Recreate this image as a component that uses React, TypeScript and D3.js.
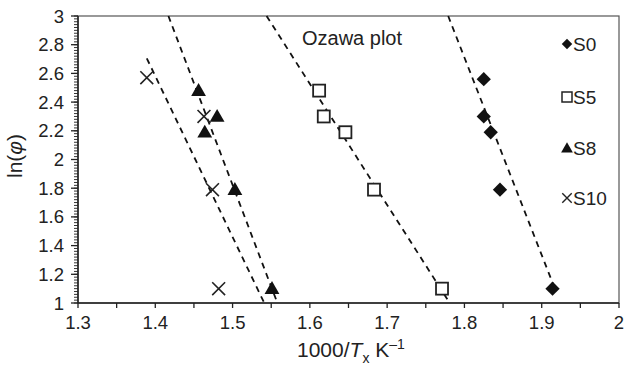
import React, { useEffect, useRef } from 'react';
import * as d3 from 'd3';

// heating-rate levels ln(phi)
const lnPhi = [2.56, 2.30, 2.19, 1.79, 1.10];
const lnPhiS8 = [2.48, 2.30, 2.19, 1.79, 1.10];
const lnPhiS10 = [2.57, 2.30, 1.79, 1.10];

const s0X = [1.825, 1.825, 1.834, 1.846, 1.914];
const s5X = [1.612, 1.618, 1.646, 1.683, 1.771];
const s8X = [1.456, 1.480, 1.464, 1.503, 1.551];
const s10X = [1.389, 1.463, 1.474, 1.482];
const s5Y = [2.48, 2.30, 2.19, 1.79, 1.10];

// dashed fit lines [x1, y1, x2, y2]
const fitS0 = [1.779, 3, 1.917, 1.1];
const fitS5 = [1.544, 3, 1.781, 1.0];
const fitS8 = [1.417, 3, 1.558, 1.0];
const fitS10 = [1.389, 2.705, 1.541, 1.0];

const xTicks = [1.3, 1.4, 1.5, 1.6, 1.7, 1.8, 1.9, 2];
const yTicks = [1, 1.2, 1.4, 1.6, 1.8, 2, 2.2, 2.4, 2.6, 2.8, 3];
const legendNames = ['S0', 'S5', 'S8', 'S10'];

const W = 624;
const H = 372;
const FONT = '"Liberation Sans", Arial, sans-serif';

const App = () => {
  const svgRef = useRef(null);

  useEffect(() => {
    const svg = d3.select(svgRef.current);
    svg.selectAll('*').remove();

    const x = d3.scaleLinear().domain([1.3, 2]).range([78, 619]);
    const y = d3.scaleLinear().domain([1, 3]).range([303, 16]);

    // frame
    svg.append('rect')
      .attr('x', x(1.3)).attr('y', y(3))
      .attr('width', x(2) - x(1.3)).attr('height', y(1) - y(3))
      .attr('fill', 'none').attr('stroke', '#555').attr('stroke-width', 1.2);

    // y axis ticks
    const yMinor = d3.range(0, 101).map((i) => 1 + i * 0.02);
    svg.append('g').selectAll('line').data(yMinor).join('line')
      .attr('x1', x(1.3) - 4).attr('x2', x(1.3))
      .attr('y1', (d) => y(d)).attr('y2', (d) => y(d))
      .attr('stroke', '#333').attr('stroke-width', 1);
    svg.append('g').selectAll('line').data(yTicks).join('line')
      .attr('x1', x(1.3) - 7).attr('x2', x(1.3))
      .attr('y1', (d) => y(d)).attr('y2', (d) => y(d))
      .attr('stroke', '#222').attr('stroke-width', 1.3);
    svg.append('g').selectAll('text').data(yTicks).join('text')
      .attr('x', 64).attr('y', (d) => y(d) + 6.5)
      .attr('text-anchor', 'end')
      .style('font-family', FONT).style('font-size', '18.5px').attr('fill', '#222')
      .text((d) => String(+d.toFixed(1)));

    // x axis ticks
    const xMinor = d3.range(0, 15).map((i) => 1.3 + i * 0.05);
    svg.append('g').selectAll('line').data(xMinor).join('line')
      .attr('x1', (d) => x(d)).attr('x2', (d) => x(d))
      .attr('y1', y(1)).attr('y2', y(1) + 5)
      .attr('stroke', '#222').attr('stroke-width', 1.3);
    svg.append('g').selectAll('text').data(xTicks).join('text')
      .attr('x', (d) => x(d)).attr('y', 329)
      .attr('text-anchor', 'middle')
      .style('font-family', FONT).style('font-size', '18.5px').attr('fill', '#222')
      .text((d) => String(+d.toFixed(1)));

    // axes lines
    svg.append('line').attr('x1', x(1.3)).attr('x2', x(2)).attr('y1', y(1)).attr('y2', y(1))
      .attr('stroke', '#222').attr('stroke-width', 1.5);
    svg.append('line').attr('x1', x(1.3)).attr('x2', x(1.3)).attr('y1', y(1)).attr('y2', y(3))
      .attr('stroke', '#222').attr('stroke-width', 1.5);

    // fit lines
    const plot = svg.append('g');
    [fitS0, fitS5, fitS8, fitS10].forEach((f) => {
      plot.append('line')
        .attr('x1', x(f[0])).attr('y1', y(f[1]))
        .attr('x2', x(f[2])).attr('y2', y(f[3]))
        .attr('stroke', '#111').attr('stroke-width', 1.8)
        .attr('stroke-dasharray', '6,5');
    });

    const diamond = d3.symbol().type(d3.symbolDiamond2).size(130);
    const tri = d3.symbol().type(d3.symbolTriangle).size(95);
    const cross = d3.symbol().type(d3.symbolTimes).size(110);

    // S0 diamonds
    plot.append('g').selectAll('path').data(s0X).join('path')
      .attr('transform', (d, i) => `translate(${x(d)},${y(lnPhi[i])})`)
      .attr('d', diamond).attr('fill', '#111');
    // S5 squares
    plot.append('g').selectAll('rect').data(s5X).join('rect')
      .attr('x', (d) => x(d) - 6).attr('y', (d, i) => y(s5Y[i]) - 6)
      .attr('width', 12).attr('height', 12)
      .attr('fill', 'white').attr('stroke', '#222').attr('stroke-width', 1.8);
    // S8 triangles
    plot.append('g').selectAll('path').data(s8X).join('path')
      .attr('transform', (d, i) => `translate(${x(d)},${y(lnPhiS8[i]) + 1})`)
      .attr('d', tri).attr('fill', '#111');
    // S10 crosses
    plot.append('g').selectAll('path').data(s10X).join('path')
      .attr('transform', (d, i) => `translate(${x(d)},${y(lnPhiS10[i])})`)
      .attr('d', cross).attr('fill', 'none').attr('stroke', '#222').attr('stroke-width', 1.6);

    // plot title
    svg.append('text').attr('x', 302).attr('y', 45)
      .style('font-family', FONT).style('font-size', '20px').attr('fill', '#222')
      .text('Ozawa plot');

    // legend
    const legY = [44, 97, 148, 198];
    const leg = svg.append('g');
    legendNames.forEach((name, i) => {
      const cy = legY[i];
      const mx = 567;
      if (i === 0) {
        leg.append('path').attr('transform', `translate(${mx},${cy})`)
          .attr('d', d3.symbol().type(d3.symbolDiamond2).size(70)).attr('fill', '#111');
      } else if (i === 1) {
        leg.append('rect').attr('x', mx - 5).attr('y', cy - 5).attr('width', 10).attr('height', 10)
          .attr('fill', 'white').attr('stroke', '#222').attr('stroke-width', 1.5);
      } else if (i === 2) {
        leg.append('path').attr('transform', `translate(${mx},${cy + 1})`)
          .attr('d', d3.symbol().type(d3.symbolTriangle).size(60)).attr('fill', '#111');
      } else {
        leg.append('path').attr('transform', `translate(${mx},${cy})`)
          .attr('d', d3.symbol().type(d3.symbolTimes).size(60))
          .attr('fill', 'none').attr('stroke', '#222').attr('stroke-width', 1.4);
      }
      leg.append('text').attr('x', 573).attr('y', cy + 7)
        .style('font-family', FONT).style('font-size', '19px').attr('fill', '#222')
        .text(name);
    });

    // axis titles
    const xt = svg.append('text').attr('x', 297).attr('y', 357)
      .style('font-family', FONT).style('font-size', '21px').attr('fill', '#222');
    xt.append('tspan').text('1000/');
    xt.append('tspan').style('font-style', 'italic').text('T');
    xt.append('tspan').attr('dy', 6).style('font-size', '14px').text('x');
    xt.append('tspan').attr('dy', -6).text(' K');
    xt.append('tspan').attr('dy', -8).style('font-size', '14px').text('\u20131');

    const yt = svg.append('text')
      .attr('transform', 'translate(22,156) rotate(-90)')
      .attr('text-anchor', 'middle')
      .style('font-family', FONT).style('font-size', '21px').attr('fill', '#222');
    yt.append('tspan').text('ln(');
    yt.append('tspan').style('font-style', 'italic').text('\u03c6');
    yt.append('tspan').text(')');
  }, []);

  return (
    <svg ref={svgRef} width={W} height={H}
      style={{ position: 'absolute', left: 0, top: 0, background: 'white' }} />
  );
};

export default App;
